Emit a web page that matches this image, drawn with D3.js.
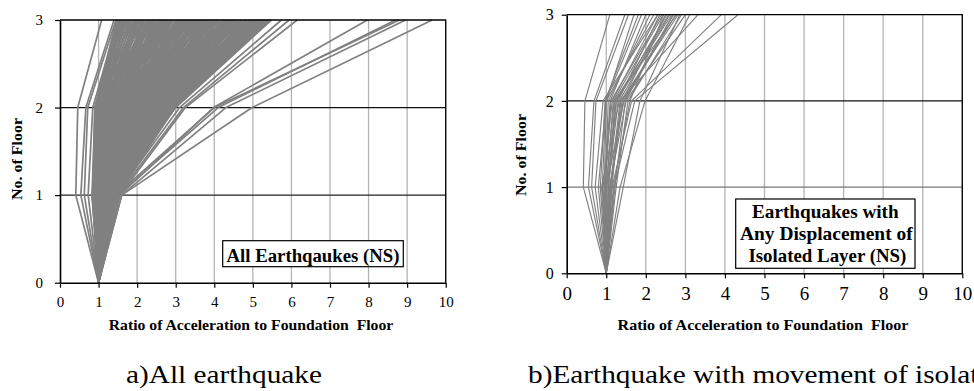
<!DOCTYPE html>
<html>
<head>
<meta charset="utf-8">
<script src="https://cdn.jsdelivr.net/npm/d3@7"></script>
<style>
  html, body { margin: 0; padding: 0; background: #fff; }
  svg { display: block; }
  text { font-family: "Liberation Serif", "Times New Roman", Times, Tinos, "Nimbus Roman", serif; fill: #000; }
</style>
</head>
<body>
<svg id="chart" width="974" height="391"></svg>
<script>
// Floor levels of each acceleration profile (foundation = 0)
const floors = [0, 1, 2, 3];
const xTicks = [0, 1, 2, 3, 4, 5, 6, 7, 8, 9, 10];
const yTicks = [0, 1, 2, 3];

// Ratio of acceleration to foundation floor at floors 1, 2 and 3 (floor 0 is always 1.0)
// a) all earthquakes, NS direction
const allQuakes = [
  [0.41, 0.46, 1.08], [0.54, 0.67, 1.40], [0.63, 0.72, 1.45], [0.73, 0.85, 1.50],
  [0.85, 0.90, 1.50], [0.90, 0.92, 1.62], [0.95, 0.95, 1.48], [0.88, 0.97, 1.75],
  [1.00, 1.00, 1.55], [0.92, 1.02, 1.90], [1.05, 1.05, 1.68], [0.98, 1.08, 2.05],
  [1.10, 1.10, 1.80], [0.86, 1.12, 1.95], [1.02, 1.15, 2.20], [1.12, 1.18, 1.85],
  [0.95, 1.20, 2.10], [1.08, 1.22, 2.35], [1.15, 1.25, 2.00], [0.90, 1.28, 2.25],
  [1.05, 1.30, 2.50], [1.20, 1.32, 2.15], [0.98, 1.35, 2.40], [1.10, 1.38, 2.65],
  [1.18, 1.40, 2.30], [0.93, 1.42, 2.55], [1.25, 1.45, 2.80], [1.03, 1.48, 2.45],
  [1.14, 1.50, 2.70], [0.97, 1.52, 2.95], [1.22, 1.55, 2.60], [1.08, 1.58, 2.85],
  [1.30, 1.60, 3.10], [1.00, 1.62, 2.75], [1.16, 1.65, 3.00], [1.27, 1.68, 2.90],
  [1.05, 1.70, 3.25], [1.20, 1.72, 3.05], [1.12, 1.75, 3.40], [1.33, 1.78, 3.15],
  [0.96, 1.80, 3.30], [1.24, 1.82, 3.55], [1.10, 1.85, 3.20], [1.35, 1.88, 3.45],
  [1.18, 1.90, 3.70], [1.02, 1.92, 3.35], [1.28, 1.95, 3.60], [1.14, 1.98, 3.85],
  [1.38, 2.00, 3.50], [1.06, 2.02, 3.75], [1.22, 2.05, 4.00], [1.32, 2.08, 3.65],
  [1.16, 2.10, 3.90], [1.40, 2.12, 4.15], [1.09, 2.15, 3.80], [1.26, 2.18, 4.05],
  [1.36, 2.20, 4.30], [1.20, 2.22, 3.95], [1.42, 2.25, 4.20], [1.12, 2.28, 4.45],
  [1.30, 2.30, 4.10], [1.44, 2.32, 4.35], [1.24, 2.35, 4.60], [1.38, 2.38, 4.25],
  [1.18, 2.40, 4.50], [1.46, 2.42, 4.75], [1.34, 2.45, 4.40], [1.28, 2.48, 4.65],
  [1.45, 2.50, 4.90], [1.22, 2.52, 4.55], [1.40, 2.55, 4.80], [1.32, 2.58, 5.05],
  [1.48, 2.60, 4.70], [1.36, 2.62, 4.95], [1.26, 2.65, 5.15], [1.44, 2.68, 4.85],
  [1.38, 2.70, 5.10], [1.48, 2.72, 5.25], [1.34, 2.75, 5.00], [1.46, 2.78, 5.30],
  [1.42, 2.80, 5.20], [1.50, 2.82, 5.40], [1.40, 2.85, 5.35], [1.47, 2.88, 5.45],
  [1.45, 2.90, 5.30], [0.84, 0.94, 1.58], [1.00, 1.06, 1.72], [0.94, 1.16, 2.00],
  [1.12, 1.26, 2.28], [1.04, 1.36, 2.58], [1.20, 1.46, 2.62], [1.08, 1.56, 2.78],
  [1.26, 1.66, 3.20], [1.16, 1.76, 3.10], [1.30, 1.86, 3.62], [1.10, 1.96, 3.48],
  [1.34, 2.06, 3.88], [1.20, 2.16, 4.22], [1.38, 2.26, 4.02], [1.28, 2.36, 4.38],
  [1.42, 2.46, 4.58], [1.30, 2.56, 4.62], [1.46, 2.66, 5.00], [1.36, 2.76, 5.18],
  [1.44, 2.86, 5.28], [1.48, 2.94, 5.42], [0.90, 1.10, 2.40], [1.00, 1.40, 3.20],
  [1.10, 1.70, 4.10], [1.20, 2.00, 4.70], [0.95, 1.30, 1.60], [1.05, 1.60, 2.40],
  [1.15, 1.90, 2.90], [1.25, 2.20, 3.40], [1.35, 2.60, 3.95],
  [0.83, 0.91, 1.46], [0.97, 0.93, 1.66], [1.07, 0.96, 1.52], [0.89, 0.99, 1.84],
  [1.13, 1.01, 1.62], [0.94, 1.03, 1.98], [1.09, 1.07, 1.78], [0.87, 1.09, 2.14],
  [1.17, 1.11, 1.70], [1.01, 1.13, 2.28], [0.91, 1.17, 1.92], [1.19, 1.19, 2.44],
  [1.04, 1.21, 2.06], [0.96, 1.23, 2.62], [1.23, 1.27, 2.18], [1.07, 1.29, 2.72],
  [0.92, 1.31, 2.34], [1.15, 1.33, 2.88], [1.28, 1.37, 2.48], [1.01, 1.39, 3.02],
  [1.13, 1.41, 2.36], [0.95, 1.43, 2.76], [1.31, 1.47, 3.12], [1.06, 1.49, 2.58],
  [1.21, 1.51, 3.28], [0.99, 1.53, 2.68], [1.27, 1.57, 3.06], [1.11, 1.59, 3.38],
  [1.34, 1.61, 2.82], [1.03, 1.63, 3.16], [1.19, 1.67, 3.52], [1.29, 1.69, 3.02],
  [1.07, 1.71, 3.34], [1.23, 1.73, 3.66], [1.37, 1.77, 3.26], [1.01, 1.79, 3.58],
  [1.15, 1.81, 3.80], [1.31, 1.83, 3.40], [1.09, 1.87, 3.72], [1.39, 1.89, 3.94],
  [1.21, 1.91, 3.56], [1.05, 1.93, 3.88], [1.33, 1.97, 4.08], [1.17, 1.99, 3.68],
  [1.41, 2.01, 4.00], [1.11, 2.03, 4.24], [1.27, 2.07, 3.82], [1.37, 2.09, 4.14],
  [1.19, 2.11, 4.36], [1.43, 2.13, 3.98], [1.13, 2.17, 4.28], [1.29, 2.19, 4.50],
  [1.39, 2.21, 4.12], [1.23, 2.23, 4.42], [1.45, 2.27, 4.64], [1.17, 2.29, 4.26],
  [1.33, 2.31, 4.56], [1.43, 2.33, 4.78], [1.27, 2.37, 4.40], [1.47, 2.39, 4.70],
  [1.21, 2.41, 4.92], [1.37, 2.43, 4.54], [1.31, 2.47, 4.84], [1.47, 2.49, 5.02],
  [1.25, 2.51, 4.68], [1.41, 2.53, 4.96], [1.35, 2.57, 5.12], [1.49, 2.59, 4.82],
  [1.29, 2.61, 5.08], [1.43, 2.63, 5.22], [1.39, 2.67, 4.94], [1.49, 2.69, 5.16],
  [1.35, 2.71, 5.32], [1.45, 2.73, 5.06], [1.41, 2.77, 5.38], [1.49, 2.79, 5.24],
  [1.43, 2.81, 5.44], [1.47, 2.83, 5.12], [1.45, 2.87, 5.36], [1.49, 2.91, 5.46],
  [1.50, 2.96, 5.40], [1.48, 2.98, 5.44],
  [0.86, 0.95, 2.30], [0.90, 1.00, 2.60], [0.95, 1.05, 2.90], [1.00, 1.10, 3.10],
  [1.05, 1.20, 3.40], [1.10, 1.30, 3.70], [1.15, 1.40, 3.90], [1.20, 1.50, 4.10],
  [1.25, 1.60, 4.30], [1.30, 1.75, 4.50], [1.35, 1.90, 4.80], [1.40, 2.05, 5.00],
  [1.45, 2.20, 5.20], [1.50, 2.35, 5.40], [1.30, 1.60, 2.20], [1.35, 1.80, 2.60],
  [1.40, 2.00, 3.00], [1.45, 2.20, 3.30], [1.48, 2.40, 3.70], [1.50, 2.60, 4.10],
  [1.50, 2.80, 4.50], [1.50, 2.95, 4.90], [1.25, 1.50, 2.10], [1.35, 1.70, 2.50],
  [1.42, 1.95, 2.80], [1.46, 2.30, 3.50], [1.49, 2.50, 3.85], [1.50, 2.70, 4.30],
  [0.85, 1.50, 2.90], [0.88, 1.80, 3.50], [0.90, 2.10, 4.00], [0.92, 2.40, 4.60],
  [0.95, 2.70, 5.10], [0.83, 1.20, 2.20], [1.50, 1.10, 1.60], [1.45, 1.00, 1.55],
  [1.40, 1.20, 2.00], [1.50, 1.40, 2.50], [1.48, 1.30, 1.90],
  [1.40, 3.00, 5.48], [1.45, 3.10, 5.74], [1.50, 3.20, 5.94], [1.55, 3.25, 6.15],
  [1.55, 3.98, 7.97], [1.50, 4.10, 8.70], [1.45, 4.00, 8.80], [1.60, 4.30, 8.96],
  [1.60, 4.98, 9.65]
];

// b) earthquakes producing displacement of the isolated layer, NS direction
const isolatedQuakes = [
  [0.42, 0.46, 1.09], [0.55, 0.69, 1.47], [0.63, 0.74, 1.56], [0.72, 0.92, 2.30],
  [0.85, 0.97, 1.81], [0.90, 0.99, 1.89], [0.95, 1.00, 2.20], [1.00, 1.18, 2.44],
  [1.05, 1.26, 2.53], [0.88, 1.33, 2.60], [1.10, 1.43, 2.70], [1.15, 1.64, 3.91],
  [1.20, 1.72, 4.33], [1.35, 1.98, 3.11], [1.43, 1.85, 2.86], [1.00, 1.20, 2.78],
  [0.95, 1.10, 2.00], [1.05, 1.30, 2.35], [1.10, 1.35, 3.32], [0.98, 1.05, 2.10],
  [1.02, 1.25, 2.65], [1.12, 1.40, 2.50], [0.92, 1.15, 2.30], [1.08, 1.50, 3.00],
  [1.25, 1.55, 2.90], [1.00, 1.45, 2.75], [0.80, 1.00, 1.70], [1.18, 1.60, 2.45],
  [1.06, 1.22, 2.58], [1.14, 1.37, 2.82], [0.97, 1.12, 2.40], [1.22, 1.48, 2.68]
];

const svg = d3.select("#chart");

// text stretched horizontally so that it spans `width` pixels (or by a fixed factor `sx`)
function label(g, str, x, y, opt) {
  const o = Object.assign({size: 14, weight: "normal", anchor: "middle", rotate: 0}, opt);
  const t = g.append("text")
    .attr("text-anchor", o.anchor)
    .style("font-size", o.size + "px")
    .style("font-weight", o.weight)
    .style("white-space", "pre")
    .text(str);
  let sx = o.sx || 1;
  if (o.width) sx = o.width / t.node().getComputedTextLength();
  t.attr("transform", `translate(${x},${y}) rotate(${o.rotate}) scale(${sx},1)`);
  t.datum(sx);
  return t;
}

function panel(cfg) {
  const g = svg.append("g");
  const x = d3.scaleLinear().domain([0, 10]).range([cfg.left, cfg.right]);
  const y = d3.scaleLinear().domain([0, 3]).range([cfg.bottom, cfg.top]);

  // vertical grid
  g.append("g").selectAll("line").data(xTicks.slice(1))
    .join("line")
    .attr("x1", d => x(d)).attr("x2", d => x(d))
    .attr("y1", y(0)).attr("y2", y(3))
    .attr("stroke", "#b4b4b4").attr("stroke-width", 1.3);

  // horizontal grid
  g.append("g").selectAll("line").data([1, 2])
    .join("line")
    .attr("x1", x(0)).attr("x2", x(10))
    .attr("y1", d => y(d)).attr("y2", d => y(d))
    .attr("stroke", d => cfg.gridColor[d]).attr("stroke-width", 1.3);

  // acceleration profiles
  const line = d3.line().x(d => x(d[0])).y(d => y(d[1]));
  g.append("g").selectAll("path").data(cfg.data)
    .join("path")
    .attr("d", r => line(floors.map((f, i) => [i === 0 ? 1 : r[i - 1], f])))
    .attr("fill", "none")
    .attr("stroke", "#808080")
    .attr("stroke-width", cfg.lineWidth)
    .attr("stroke-linejoin", "round");

  // frame: top and right edges
  g.append("path")
    .attr("d", `M${x(0)},${y(3)}H${x(10)}V${y(0)}`)
    .attr("fill", "none").attr("stroke", "#000").attr("stroke-width", 1.3);

  // axes
  const xa = g.append("g").attr("transform", `translate(0,${y(0)})`)
    .call(d3.axisBottom(x).tickValues(xTicks).tickFormat(d3.format("d"))
      .tickSize(5).tickSizeOuter(0).tickPadding(cfg.xPad));
  const ya = g.append("g").attr("transform", `translate(${x(0)},0)`)
    .call(d3.axisLeft(y).tickValues(yTicks).tickFormat(d3.format("d"))
      .tickSize(5).tickSizeOuter(0).tickPadding(cfg.yPad));
  [xa, ya].forEach(a => {
    a.attr("font-family", null);
    a.select(".domain").attr("stroke", "#000").attr("stroke-width", 1.6);
    a.selectAll(".tick line").attr("stroke", "#000").attr("stroke-width", 1.2);
    a.selectAll("text").attr("fill", "#000");
  });
  xa.selectAll("text").style("font-size", cfg.xFont + "px");
  ya.selectAll("text").style("font-size", cfg.yFont + "px");

  // axis titles
  label(g, "Ratio of Acceleration to Foundation  Floor", cfg.xTitle[0], cfg.xTitle[1],
        {size: 14, weight: "bold", width: cfg.xTitle[2]});
  label(g, "No. of Floor", cfg.yTitle[0], cfg.yTitle[1],
        {size: 14, weight: "bold", width: 82, rotate: -90});

  // legend box
  const b = cfg.box;
  g.append("rect").attr("x", b.x).attr("y", b.y).attr("width", b.w).attr("height", b.h)
    .attr("fill", "#fff").attr("stroke", "#000").attr("stroke-width", 1.2);
  b.lines.forEach((t, i) => {
    label(g, t, b.x + b.w / 2 + (b.dx[i] || 0), b.base + i * b.lead,
          {size: 18, weight: "bold", width: b.widths[i]});
  });
}

panel({
  data: allQuakes, left: 60, right: 445.7, top: 20, bottom: 282.7,
  gridColor: {1: "#222", 2: "#111"}, lineWidth: 1.7,
  xPad: 9, yPad: 12, xFont: 15, yFont: 15,
  xTitle: [251, 330, 285], yTitle: [22, 159],
  box: {x: 222.7, y: 240.7, w: 180.6, h: 26, base: 262, lead: 0, dx: [0],
        widths: [173], lines: ["All Earthqaukes (NS)"]},
});

panel({
  data: isolatedQuakes, left: 566.7, right: 962.3, top: 14.7, bottom: 273.3,
  gridColor: {1: "#777", 2: "#111"}, lineWidth: 1.15,
  xPad: 8, yPad: 8, xFont: 19, yFont: 16,
  xTitle: [763, 330, 291], yTitle: [526, 155],
  box: {x: 735.7, y: 199, w: 179.3, h: 69.3, base: 218.3, lead: 21.8, dx: [0, 1, 2],
        widths: [146.7, 172.7, 158], lines: ["Earthquakes with", "Any Displacement of", "Isolated Layer (NS)"]},
});

// captions below each panel; the second runs on past the right edge of the page
const capA = label(svg, "a)All earthquake", 126, 383, {size: 25, anchor: "start", width: 196});
label(svg, "b)Earthquake with movement of isolated layer", 528, 383,
      {size: 25, anchor: "start", sx: capA.datum()});
</script>
</body>
</html>
